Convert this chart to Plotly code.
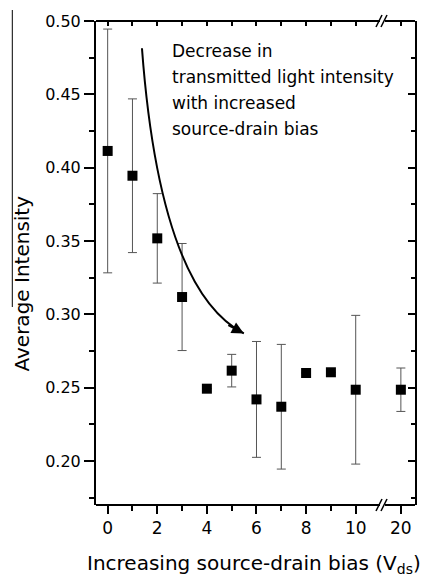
import plotly.graph_objects as go

# ---- data ----
bias_v = [0, 1, 2, 3, 4, 5, 6, 7, 8, 9, 10, 20]
avg_intensity = [0.4114, 0.3945, 0.3518, 0.3118, 0.2493, 0.2616, 0.2420, 0.2370, 0.2600, 0.2605, 0.2486, 0.2486]
err = [0.0831, 0.0524, 0.0305, 0.0365, 0.0, 0.0111, 0.0395, 0.0425, 0.0, 0.0, 0.0507, 0.0148]
x_tick_labels = ["0", "2", "4", "6", "8", "10", "20"]
x_tick_values = [0, 2, 4, 6, 8, 10, 20]
x_minor_values = [1, 3, 5, 7, 9]
y_tick_values = [0.20, 0.25, 0.30, 0.35, 0.40, 0.45, 0.50]

# broken axis: values beyond 10 are drawn just after the break
BREAK_AFTER = 10
AFTER_BREAK_POS = 11.82


def axis_pos(v):
    return v if v <= BREAK_AFTER else AFTER_BREAK_POS + (v - 20) * 0.1


xp = [axis_pos(v) for v in bias_v]
xt = [axis_pos(v) for v in x_tick_values]
XR = [-0.47, 12.39]
YR = [0.17, 0.50]

FONT = "DejaVu Sans"

# plot area in pixels
L, R, T, B = 96, 415, 21, 505
W, H = 425, 581


def px(xpix):
    return (xpix - L) / (R - L)


def py(ypix):
    return (B - ypix) / (B - T)


fig = go.Figure()
fig.add_trace(go.Scatter(
    x=xp, y=avg_intensity, mode="markers",
    marker=dict(symbol="square", size=10, color="black"),
    error_y=dict(type="data", array=err, visible=True, color="#555555", thickness=1, width=4.5),
    hoverinfo="skip", showlegend=False,
))
# invisible trace to carry the mirrored axes
fig.add_trace(go.Scatter(x=xp, y=avg_intensity, mode="markers", marker=dict(opacity=0),
                         xaxis="x2", yaxis="y2", hoverinfo="skip", showlegend=False))

shapes = []
line_k = dict(color="black", width=2)
# top and bottom frame lines with the break gap
gap_l, gap_r = 380, 385
for yy in (0, 1):
    shapes.append(dict(type="line", xref="paper", yref="paper", x0=0, x1=px(gap_l), y0=yy, y1=yy, line=line_k))
    shapes.append(dict(type="line", xref="paper", yref="paper", x0=px(gap_r), x1=1, y0=yy, y1=yy, line=line_k))
# break marks "//"
for ycen in (B, T):
    for dx in (0, 5):
        shapes.append(dict(type="line", xref="paper", yref="paper",
                           x0=px(376 + dx), y0=py(ycen + 6), x1=px(382 + dx), y1=py(ycen - 6),
                           line=dict(color="black", width=1.5)))
# overline of the y title
shapes.append(dict(type="line", xref="paper", yref="paper", x0=px(12.3), x1=px(12.3),
                   y0=py(10), y1=py(307), line=dict(color="black", width=1)))

# curved arrow
p0 = (1.383, 0.4814)
p1 = (2.109, 0.3166)
p2 = (5.49, 0.2870)
shapes.append(dict(type="path", xref="x", yref="y",
                   path=f"M {p0[0]},{p0[1]} Q {p1[0]},{p1[1]} {p2[0]},{p2[1]}",
                   line=dict(color="black", width=2)))

annotations = []
annotations.append(dict(x=p2[0], y=p2[1], xref="x", yref="y", ax=-17, ay=-9, text="",
                        showarrow=True, arrowhead=2, arrowsize=1.2, arrowwidth=2, arrowcolor="black"))

note_lines = ["Decrease in", "transmitted light intensity", "with increased", "source-drain bias"]
note_y = [51, 77, 103, 129]
for t, yy in zip(note_lines, note_y):
    annotations.append(dict(x=px(170), y=py(yy), xref="paper", yref="paper", text=t, showarrow=False,
                            xanchor="left", yanchor="middle", align="left",
                            font=dict(family=FONT, size=17, color="black")))

annotations.append(dict(x=px(21), y=py(283.5), xref="paper", yref="paper", text="Average Intensity",
                        textangle=-90, showarrow=False, xanchor="center", yanchor="middle",
                        font=dict(family=FONT, size=20, color="black")))
annotations.append(dict(x=px(254), y=py(564), xref="paper", yref="paper",
                        text="Increasing source-drain bias (V<sub>ds</sub>)",
                        showarrow=False, xanchor="center", yanchor="middle",
                        font=dict(family=FONT, size=20, color="black")))

fig.update_layout(
    width=W, height=H,
    margin=dict(l=L, r=W - R, t=T, b=H - B),
    paper_bgcolor="white", plot_bgcolor="white",
    showlegend=False,
    shapes=shapes, annotations=annotations,
    xaxis=dict(range=XR, tickmode="array", tickvals=xt, ticktext=x_tick_labels,
               ticks="outside", ticklen=8, tickwidth=1.5, tickcolor="black",
               minor=dict(tickvals=x_minor_values, ticks="outside", ticklen=5, tickwidth=1.5, tickcolor="black"),
               showline=False, showgrid=False, zeroline=False,
               tickfont=dict(family=FONT, size=17, color="black")),
    xaxis2=dict(range=XR, overlaying="x", side="top", tickmode="array",
                tickvals=xt[:-1] + x_minor_values + [xt[-1]], ticks="inside", ticklen=5, tickwidth=1.5,
                tickcolor="black", showticklabels=False, showline=False, showgrid=False, zeroline=False),
    yaxis=dict(range=YR, tickmode="array", tickvals=y_tick_values, tickformat=".2f",
               ticks="outside", ticklen=10, tickwidth=1.5, tickcolor="black",
               minor=dict(dtick=0.025, tick0=0.175, ticks="outside", ticklen=5, tickwidth=1.5, tickcolor="black"),
               showline=True, linewidth=2, linecolor="black", showgrid=False, zeroline=False,
               tickfont=dict(family=FONT, size=16, color="black")),
    yaxis2=dict(range=YR, overlaying="y", side="right", tickmode="array", tickvals=y_tick_values,
                ticks="inside", ticklen=7, tickwidth=1.5, tickcolor="black",
                minor=dict(dtick=0.025, tick0=0.175, ticks="inside", ticklen=4, tickwidth=1.5, tickcolor="black"),
                showticklabels=False, showline=True, linewidth=2, linecolor="black",
                showgrid=False, zeroline=False),
)

fig.write_html("out.html", config={"displayModeBar": False},
               post_script="document.body.style.margin='0';document.body.style.padding='0';")
